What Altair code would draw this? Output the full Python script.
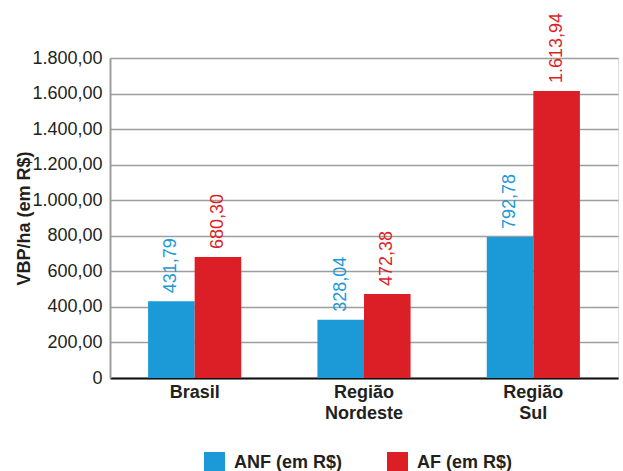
import altair as alt
import pandas as pd

# VBP per hectare, by region and type of agriculture
regions = ["Brasil", "Região Nordeste", "Região Sul"]
series = ["ANF (em R$)", "AF (em R$)"]
anf_values = [431.79, 328.04, 792.78]
af_values = [680.30, 472.38, 1613.94]
y_ticks = [0, 200, 400, 600, 800, 1000, 1200, 1400, 1600, 1800]

colors = ["#1b9ad7", "#dc1f26"]


def br_number(v):
    s = f"{v:,.2f}"
    return s.replace(",", "_").replace(".", ",").replace("_", ".")


rows = []
for r, a, f in zip(regions, anf_values, af_values):
    rows.append({"regiao": r, "serie": series[0], "valor": a, "rotulo": br_number(a)})
    rows.append({"regiao": r, "serie": series[1], "valor": f, "rotulo": br_number(f)})
df = pd.DataFrame(rows)

font = "Liberation Sans"
ink = "#231f20"
grid = "#9d9d9d"

base = alt.Chart(df).encode(
    x=alt.X(
        "regiao:N",
        sort=regions,
        scale=alt.Scale(paddingInner=0.45, paddingOuter=0.225),
        axis=alt.Axis(
            title=None,
            labelAngle=0,
            labelExpr="split(datum.label, ' ')",
            labelFont=font,
            labelFontSize=18,
            labelFontWeight="bold",
            labelColor=ink,
            labelPadding=5,
            labelLineHeight=21,
            ticks=False,
            domainColor="#111111",
            domainWidth=2,
        ),
    ),
    xOffset=alt.XOffset("serie:N", sort=series),
    y=alt.Y(
        "valor:Q",
        scale=alt.Scale(domain=[0, 1800], nice=False),
        axis=alt.Axis(
            title="VBP/ha (em R$)",
            values=y_ticks,
            labelExpr="datum.value == 0 ? '0' : replace(replace(replace(format(datum.value, ',.2f'), ',', '_'), '.', ','), '_', '.')",
            labelFont=font,
            labelFontSize=18,
            labelColor=ink,
            labelPadding=8,
            ticks=False,
            domainColor=grid,
            domainWidth=2,
            gridColor=grid,
            gridWidth=1.6,
            titleFont=font,
            titleFontSize=18,
            titleFontWeight="bold",
            titleColor=ink,
            titlePadding=-2,
        ),
    ),
    color=alt.Color(
        "serie:N",
        sort=series,
        scale=alt.Scale(domain=series, range=colors),
        legend=alt.Legend(
            title=None,
            orient="none",
            direction="horizontal",
            legendX=94,
            legendY=394,
            symbolType="square",
            symbolSize=440,
            symbolStrokeWidth=0,
            symbolOpacity=1,
            labelFont=font,
            labelFontSize=18,
            labelFontWeight="bold",
            labelColor=ink,
            labelOffset=9,
            columnPadding=44,
        ),
    ),
)

bars = base.mark_bar(opacity=1)

labels = base.mark_text(
    angle=270, align="left", baseline="middle", dx=8, font=font, fontSize=18
).encode(text="rotulo:N")

chart = (
    (bars + labels)
    .properties(
        width=508,
        height=320,
        autosize=alt.AutoSizeParams(type="none"),
        padding={"left": 110, "top": 58, "right": 5, "bottom": 93},
    )
    .configure_view(stroke=grid, strokeWidth=1.6)
    .configure(background="white")
)

chart.save("out.html", embed_options={"renderer": "svg", "actions": False})
